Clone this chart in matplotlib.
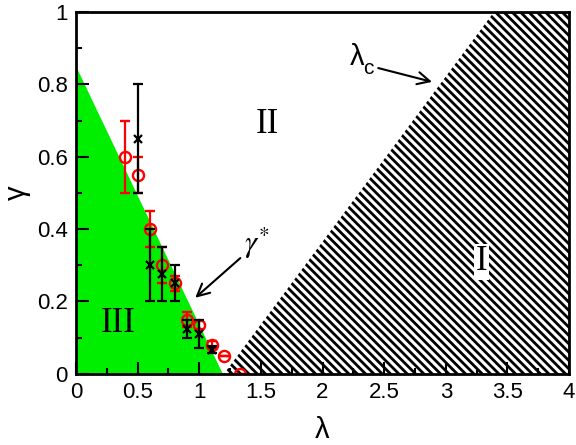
import numpy as np
import matplotlib
matplotlib.use("Agg")
import matplotlib.pyplot as plt
from matplotlib.patches import Polygon

# ── Data ─────────────────────────────────────────────────────────────────────
# phase III region (green) and phase I region (hatched)
green_lam = [0.0, 0.0, 1.19]
green_gam = [0.0, 0.85, 0.0]
hatch_lam = [1.20, 3.39, 4.0, 4.0]
hatch_gam = [0.0, 1.0, 1.0, 0.0]

# red circles with error bars
red_lam = [0.40, 0.50, 0.60, 0.70, 0.80, 0.90, 1.00, 1.10, 1.20, 1.33]
red_gam = [0.60, 0.55, 0.40, 0.30, 0.25, 0.15, 0.135, 0.08, 0.05, 0.0]
red_err = [0.10, 0.05, 0.05, 0.05, 0.02, 0.02, 0.01, 0.01, 0.0, 0.0]

# black crosses with error bars
blk_lam = [0.50, 0.60, 0.70, 0.80, 0.90, 1.00, 1.10]
blk_gam = [0.65, 0.30, 0.275, 0.25, 0.125, 0.11, 0.067]
blk_err = [0.15, 0.10, 0.075, 0.05, 0.025, 0.04, 0.01]

xticks = [0, 0.5, 1, 1.5, 2, 2.5, 3, 3.5, 4]
xtick_labels = ["0", "0.5", "1", "1.5", "2", "2.5", "3", "3.5", "4"]
yticks = [0, 0.2, 0.4, 0.6, 0.8, 1]
ytick_labels = ["0", "0.2", "0.4", "0.6", "0.8", "1"]

# ── Style ────────────────────────────────────────────────────────────────────
plt.rcParams["font.family"] = ["Liberation Sans", "DejaVu Sans"]
plt.rcParams["hatch.linewidth"] = 2.0

fig = plt.figure(figsize=(5.76, 4.45), dpi=100)
ax = fig.add_axes([0.132, 0.160, 0.856, 0.813])

ax.add_patch(Polygon(np.column_stack([green_lam, green_gam]), closed=True,
                     facecolor="#00ee00", edgecolor="none", zorder=1))
ax.add_patch(Polygon(np.column_stack([hatch_lam, hatch_gam]), closed=True,
                     facecolor="white", edgecolor="black", linewidth=0,
                     hatch="\\\\\\\\", zorder=1))

ax.errorbar(red_lam, red_gam, yerr=red_err, fmt="o", color="red",
            mfc="none", mec="red", ms=8, mew=1.7, elinewidth=1.6,
            capsize=3.5, capthick=1.6, zorder=3)
ax.errorbar(blk_lam, blk_gam, yerr=blk_err, fmt="x", color="black",
            ms=6, mew=1.6, elinewidth=1.6, capsize=3.5, capthick=1.6,
            zorder=4)

# ── Labels inside the plot ───────────────────────────────────────────────────
serif = ["Liberation Serif", "DejaVu Serif"]
ax.text(1.55, 0.69, "II", family=serif, fontsize=25, ha="center", va="center")
ax.text(0.34, 0.14, "III", family=serif, fontsize=25, ha="center", va="center")
ax.text(3.29, 0.31, "I", family=serif, fontsize=25, ha="center", va="center",
        bbox=dict(facecolor="white", edgecolor="none", pad=1.0))

ax.annotate("", xy=(0.95, 0.205), xytext=(1.35, 0.325),
            arrowprops=dict(arrowstyle="->", lw=1.5, mutation_scale=22,
                            color="black"))
ax.text(1.47, 0.36, r"$\gamma^{*}$", fontsize=22,
        ha="center", va="center", math_fontfamily="stix")

ax.annotate("", xy=(2.91, 0.805), xytext=(2.43, 0.847),
            arrowprops=dict(arrowstyle="->", lw=1.5, mutation_scale=22,
                            color="black"))
ax.text(2.28, 0.875, "λ", fontsize=21, ha="center", va="center")
ax.text(2.37, 0.845, "c", fontsize=15, ha="center", va="center")

# ── Axes ─────────────────────────────────────────────────────────────────────
ax.set_xlim(0, 4)
ax.set_ylim(0, 1)
ax.set_xticks(xticks)
ax.set_xticklabels(xtick_labels)
ax.set_yticks(yticks)
ax.set_yticklabels(ytick_labels)
ax.set_xticks(np.arange(0.25, 4, 0.5), minor=True)
ax.set_yticks(np.arange(0.1, 1, 0.2), minor=True)
ax.tick_params(which="both", direction="in", top=False, right=False,
               labelsize=16, width=1.5, zorder=5)
ax.tick_params(which="major", length=9, pad=6)
ax.tick_params(which="minor", length=4.5)
for sp in ax.spines.values():
    sp.set_linewidth(2)
    sp.set_zorder(6)

ax.set_xlabel("λ", fontsize=21, labelpad=9)
ax.set_ylabel("γ", fontsize=21, labelpad=4)

fig.savefig("out.png", dpi=100)
